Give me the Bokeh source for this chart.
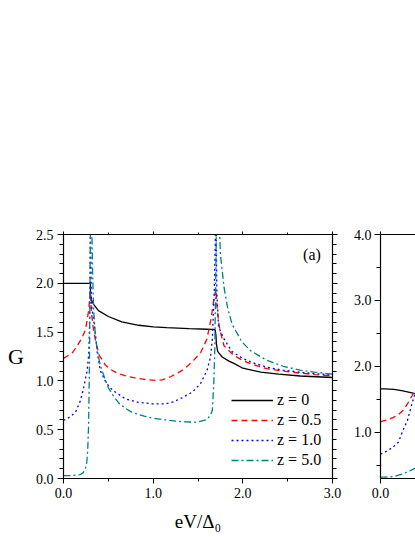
from bokeh.plotting import figure
from bokeh.models import (FixedTicker, LinearAxis, Range1d, Label, Legend, LegendItem,
                          NumeralTickFormatter, CustomJSTickFormatter)
from bokeh.layouts import row
from bokeh.embed import file_html
from bokeh.resources import INLINE

# ---------------- data ----------------
# panel (a): z = 0
x_z0 = [0, 0.1, 0.2, 0.3, 0.301, 0.31, 0.34, 0.39, 0.5, 0.65, 0.84, 1.0, 1.15, 1.4, 1.6, 1.69,
        1.70, 1.705, 1.72, 1.77, 1.85, 1.9, 2.0, 2.2, 2.4, 2.64, 3.0]
g_z0 = [2.0, 2.0, 2.0, 2.0, 1.88, 1.83, 1.78, 1.72, 1.66, 1.605, 1.57, 1.553, 1.545, 1.535, 1.529, 1.525,
        1.47, 1.38, 1.30, 1.245, 1.20, 1.18, 1.13, 1.09, 1.07, 1.05, 1.035]
# z = 0.5
x_z05 = [0, 0.1, 0.153, 0.2, 0.245, 0.28, 0.30, 0.31, 0.33, 0.36, 0.40, 0.47, 0.53, 0.6, 0.7, 0.8,
         0.87, 0.95, 1.05, 1.1, 1.16, 1.2, 1.25, 1.3, 1.34, 1.4, 1.45, 1.5, 1.53, 1.6, 1.646, 1.676,
         1.70, 1.71, 1.73, 1.75, 1.79, 1.9, 2.0, 2.1, 2.27, 2.45, 2.64, 2.8, 3.0]
g_z05 = [1.23, 1.29, 1.36, 1.43, 1.52, 1.72, 1.92, 1.72, 1.55, 1.40, 1.26, 1.16, 1.115, 1.08, 1.05, 1.03,
         1.02, 1.01, 1.005, 1.01, 1.03, 1.045, 1.07, 1.095, 1.12, 1.165, 1.21, 1.26, 1.29, 1.43, 1.64, 1.83,
         1.94, 1.78, 1.60, 1.50, 1.36, 1.26, 1.21, 1.17, 1.125, 1.10, 1.08, 1.065, 1.05]
# z = 1.0
x_z1 = [0, 0.07, 0.134, 0.19, 0.226, 0.264, 0.282, 0.29, 0.296, 0.30, 0.305, 0.312, 0.33, 0.35, 0.375,
        0.41, 0.47, 0.52, 0.58, 0.69, 0.84, 0.99, 1.14, 1.22, 1.30, 1.435, 1.527, 1.6, 1.64, 1.66, 1.68,
        1.69, 1.70, 1.705, 1.71, 1.73, 1.79, 1.88, 2.0, 2.1, 2.27, 2.45, 2.64, 2.8, 3.0]
g_z1 = [0.594, 0.63, 0.68, 0.80, 0.935, 1.107, 1.28, 1.55, 1.95, 2.8, 2.3, 1.78, 1.66, 1.54, 1.30,
        1.107, 0.99, 0.93, 0.884, 0.816, 0.78, 0.765, 0.765, 0.785, 0.816, 0.884, 0.97, 1.107, 1.243, 1.43, 1.88,
        2.3, 2.8, 2.3, 1.9, 1.55, 1.43, 1.30, 1.23, 1.19, 1.14, 1.11, 1.09, 1.075, 1.06]
# z = 5.0
x_z5 = [0, 0.1, 0.19, 0.22, 0.245, 0.26, 0.27, 0.28, 0.29, 0.297, 0.305, 0.315, 0.325, 0.335, 0.357,
        0.39, 0.41, 0.47, 0.5, 0.56, 0.62, 0.69, 0.76, 0.84, 0.9, 0.99, 1.14, 1.34, 1.49, 1.6, 1.64, 1.66,
        1.676, 1.687, 1.70, 1.71, 1.73, 1.75, 1.79, 1.83, 1.88, 1.99, 2.085, 2.27, 2.45, 2.64, 2.8, 3.0]
g_z5 = [0.03, 0.03, 0.04, 0.06, 0.10, 0.17, 0.29, 0.55, 1.2, 2.2, 3.0, 2.6, 2.1, 1.75, 1.43,
        1.25, 1.16, 1.0, 0.93, 0.84, 0.77, 0.72, 0.68, 0.655, 0.64, 0.62, 0.60, 0.58, 0.578, 0.605, 0.65, 0.70,
        0.97, 1.31, 2.2, 3.0, 2.8, 2.3, 1.96, 1.75, 1.58, 1.40, 1.31, 1.21, 1.15, 1.11, 1.09, 1.07]

# panel (b): only the leftmost part is visible
xb = [0, 0.05, 0.1, 0.15, 0.2, 0.25, 0.3, 0.35, 0.39]
gb_z0 = [1.66, 1.658, 1.655, 1.65, 1.64, 1.63, 1.615, 1.60, 1.585]
gb_z05 = [1.16, 1.18, 1.20, 1.23, 1.27, 1.33, 1.43, 1.55, 1.66]
gb_z1 = [0.67, 0.70, 0.74, 0.79, 0.85, 1.03, 1.18, 1.43, 1.62]
gb_z5 = [0.32, 0.32, 0.325, 0.33, 0.35, 0.37, 0.40, 0.43, 0.46]

labels = ["z = 0", "z = 0.5", "z = 1.0", "z = 5.0"]
colors = ["#000000", "#ff0000", "#0000ff", "#008080"]
dashes = ["solid", "6 4", "2 3", "7 3 2 3"]

x_major = [0, 1, 2, 3]
x_minor = [0.5, 1.5, 2.5]
ya_major = [0, 0.5, 1.0, 1.5, 2.0, 2.5]
ya_minor = [round(0.1 * i, 1) for i in range(26)]
yb_major = [1.0, 2.0, 3.0, 4.0]
yb_minor = [0.5, 1.5, 2.5, 3.5]

FONT = "Liberation Serif"
empty_fmt = CustomJSTickFormatter(code="return '';")


def style_axis(ax, major_out, minor_out, labels_on=True):
    ax.axis_line_color = "#000000"
    ax.axis_line_width = 1.2
    ax.major_tick_line_color = "#000000"
    ax.minor_tick_line_color = "#000000"
    ax.major_tick_in = 0
    ax.minor_tick_in = 0
    ax.major_tick_out = major_out
    ax.minor_tick_out = minor_out
    ax.major_label_text_font = FONT
    ax.major_label_text_font_size = "14px"
    ax.major_label_text_color = "#000000"
    if not labels_on:
        ax.formatter = empty_fmt
        ax.major_label_standoff = 0


# ---------------- panel (a) ----------------
p = figure(width=345, height=537, x_range=Range1d(0, 3), y_range=Range1d(0, 2.5),
           output_backend="svg", toolbar_location=None,
           min_border_left=63, min_border_right=13, min_border_top=234, min_border_bottom=59,
           x_axis_location=None, y_axis_location=None)
p.xgrid.visible = False
p.ygrid.visible = False
p.outline_line_color = None
p.background_fill_color = "white"
p.border_fill_color = "white"

ax_b = LinearAxis(ticker=FixedTicker(ticks=x_major, minor_ticks=x_minor),
                  formatter=NumeralTickFormatter(format="0.0"))
style_axis(ax_b, 5, 3)
ax_b.major_label_standoff = 4
ax_b.axis_label = "eV/Δ₀"
ax_b.axis_label_text_font = FONT
ax_b.axis_label_text_font_style = "normal"
ax_b.axis_label_text_font_size = "19px"
ax_b.axis_label_text_color = "#000000"
ax_b.axis_label_standoff = 10
p.add_layout(ax_b, "below")

ax_l = LinearAxis(ticker=FixedTicker(ticks=ya_major, minor_ticks=ya_minor),
                  formatter=NumeralTickFormatter(format="0.0"))
style_axis(ax_l, 6, 4)
ax_l.major_label_standoff = 4
ax_l.axis_label = "G"
ax_l.axis_label_orientation = "horizontal"
ax_l.axis_label_text_font = FONT
ax_l.axis_label_text_font_style = "normal"
ax_l.axis_label_text_font_size = "22px"
ax_l.axis_label_text_color = "#000000"
ax_l.axis_label_standoff = 9
p.add_layout(ax_l, "left")

ax_t = LinearAxis(ticker=FixedTicker(ticks=x_major, minor_ticks=x_minor))
style_axis(ax_t, 3, 2, labels_on=False)
p.add_layout(ax_t, "above")

ax_r = LinearAxis(ticker=FixedTicker(ticks=ya_major, minor_ticks=ya_minor))
style_axis(ax_r, 5, 4, labels_on=False)
p.add_layout(ax_r, "right")

series_a = [(x_z0, g_z0), (x_z05, g_z05), (x_z1, g_z1), (x_z5, g_z5)]
items = []
for (xs, gs), lab, col, dash in zip(series_a, labels, colors, dashes):
    r = p.line(xs, gs, line_color=col, line_width=1.3, line_dash=dash)
    items.append(LegendItem(label=lab, renderers=[r]))

legend = Legend(items=items, location=(168, 8), glyph_width=42, glyph_height=20,
                label_height=20, spacing=0, padding=0, margin=0, label_standoff=4,
                border_line_color=None, background_fill_alpha=0,
                label_text_font=FONT, label_text_font_size="16px", label_text_color="#000000")
p.add_layout(legend)

p.add_layout(Label(x=2.87, y=2.30, text="(a)", text_align="right", text_baseline="middle",
                   text_font=FONT, text_font_size="16px", text_color="#000000"))

# ---------------- panel (b), cut off at the window edge ----------------
p2 = figure(width=70, height=537, x_range=Range1d(0, 0.39), y_range=Range1d(0.3, 4.0),
            output_backend="svg", toolbar_location=None,
            min_border_left=35, min_border_right=0, min_border_top=234, min_border_bottom=59,
            x_axis_location=None, y_axis_location=None)
p2.xgrid.visible = False
p2.ygrid.visible = False
p2.outline_line_color = None

bx = LinearAxis(ticker=FixedTicker(ticks=x_major, minor_ticks=x_minor),
                formatter=NumeralTickFormatter(format="0.0"))
style_axis(bx, 5, 3)
bx.major_label_standoff = 4
p2.add_layout(bx, "below")

by = LinearAxis(ticker=FixedTicker(ticks=yb_major, minor_ticks=yb_minor),
                formatter=NumeralTickFormatter(format="0.0"))
style_axis(by, 6, 4)
by.major_label_standoff = 3
p2.add_layout(by, "left")

bt = LinearAxis(ticker=FixedTicker(ticks=x_major, minor_ticks=x_minor))
style_axis(bt, 3, 2, labels_on=False)
p2.add_layout(bt, "above")

for gs, col, dash in zip([gb_z0, gb_z05, gb_z1, gb_z5], colors, dashes):
    p2.line(xb, gs, line_color=col, line_width=1.3, line_dash=dash)

layout = row(p, p2)
open("out.html", "w").write(file_html(layout, INLINE))
